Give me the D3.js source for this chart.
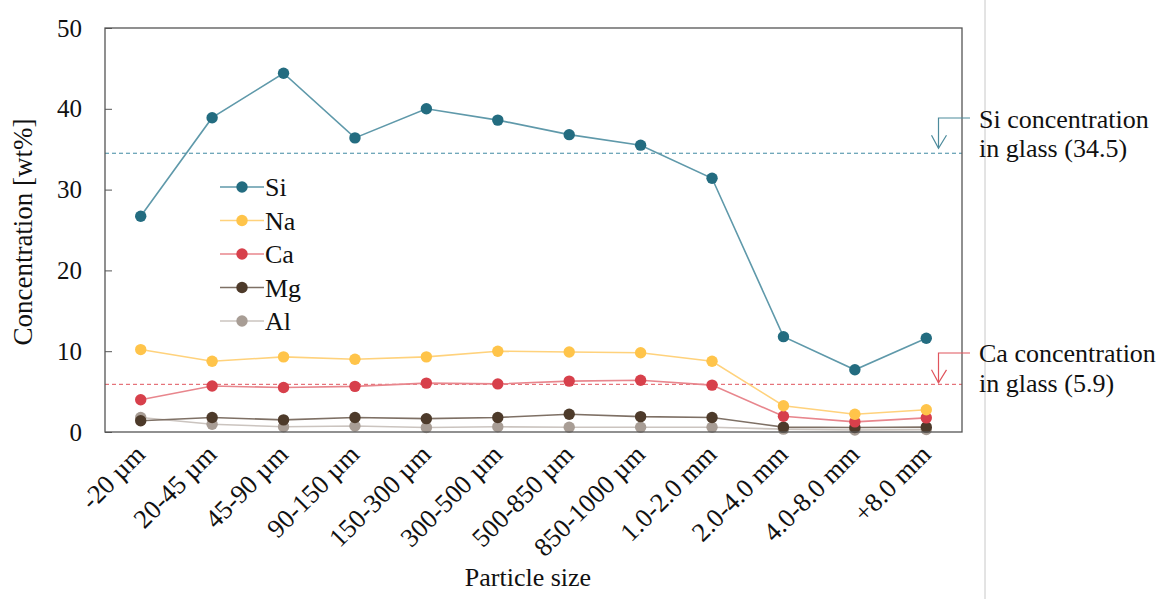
<!DOCTYPE html>
<html><head><meta charset="utf-8">
<script src="https://cdn.jsdelivr.net/npm/d3@7/dist/d3.min.js"></script>
<style>body{margin:0;background:#fff;} svg{display:block;} text{font-family:"Liberation Serif","Times New Roman",serif;}</style>
</head><body>
<svg id="c" width="1169" height="599"></svg>
<script>
const categories = ["-20 µm","20-45 µm","45-90 µm","90-150 µm","150-300 µm","300-500 µm","500-850 µm","850-1000 µm","1.0-2.0 mm","2.0-4.0 mm","4.0-8.0 mm","+8.0 mm"];
const si = [26.7,38.9,44.4,36.4,40.0,38.6,36.8,35.5,31.4,11.8,7.7,11.6];
const na = [10.2,8.75,9.3,9.0,9.3,10.0,9.9,9.8,8.75,3.25,2.2,2.75];
const ca = [4.0,5.7,5.5,5.65,6.05,5.95,6.3,6.4,5.8,1.95,1.25,1.75];
const mg = [1.4,1.8,1.5,1.8,1.65,1.8,2.2,1.9,1.8,0.6,0.55,0.6];
const al = [1.8,0.95,0.65,0.75,0.55,0.65,0.58,0.58,0.58,0.35,0.25,0.3];
const yTicks = [0,10,20,30,40,50];
const siGlass = 34.5, caGlass = 5.9;

const series = [
  {name:"Si", values:si, marker:"#236c80", line:"#5f99aa"},
  {name:"Na", values:na, marker:"#ffc44a", line:"#ffd27c"},
  {name:"Ca", values:ca, marker:"#d7404b", line:"#e8868d"},
  {name:"Mg", values:mg, marker:"#4d3a2a", line:"#7e7065"},
  {name:"Al", values:al, marker:"#a89d95", line:"#cbc4bf"}
];

const svg = d3.select("#c");
const L=105, R=962, T=28, B=432;
const x = d3.scaleBand().domain(categories).range([L,R]);
const y = d3.scaleLinear().domain([0,50]).range([B,T]);
const cx = d => x(d)+x.bandwidth()/2;

// right grey separator
svg.append("line").attr("x1",985).attr("x2",985).attr("y1",0).attr("y2",599).attr("stroke","#c8c8c8").attr("stroke-width",1);

// glass reference lines
svg.append("line").attr("x1",L).attr("x2",R).attr("y1",y(siGlass)).attr("y2",y(siGlass))
  .attr("stroke","#3f89a2").attr("stroke-width",1).attr("stroke-dasharray","4,3");
svg.append("line").attr("x1",L).attr("x2",R).attr("y1",y(caGlass)).attr("y2",y(caGlass))
  .attr("stroke","#e0545c").attr("stroke-width",1).attr("stroke-dasharray","4,3");

// series
const line = d3.line().x((d,i)=>cx(categories[i])).y(d=>y(d));
[...series].reverse().forEach(s=>{
  svg.append("path").attr("d",line(s.values)).attr("fill","none").attr("stroke",s.line).attr("stroke-width",1.6);
});
[...series].reverse().forEach(s=>{
  svg.append("g").selectAll("circle").data(s.values).join("circle")
    .attr("cx",(d,i)=>cx(categories[i])).attr("cy",d=>y(d)).attr("r",5.7).attr("fill",s.marker);
});

// frame
svg.append("rect").attr("x",L).attr("y",T).attr("width",R-L).attr("height",B-T).attr("fill","none").attr("stroke","#555").attr("stroke-width",1.3);

// y axis
const ya = svg.append("g").attr("transform",`translate(${L},0)`)
  .call(d3.axisLeft(y).tickValues(yTicks).tickSize(-7).tickPadding(23).tickFormat(d3.format("d")));
ya.select(".domain").remove();
ya.selectAll("line").attr("stroke","#555");
ya.selectAll("text").attr("font-size",25).attr("fill","#111").attr("font-family","Liberation Serif");

// x labels
svg.append("g").selectAll("text").data(categories).join("text")
  .attr("transform",d=>`translate(${cx(d)+6},${B+24}) rotate(-45)`)
  .attr("text-anchor","end").attr("font-size",26.5).attr("fill","#111").text(d=>d);

// axis titles
svg.append("text").attr("x",528).attr("y",586).attr("text-anchor","middle").attr("font-size",26).attr("fill","#111").text("Particle size");
svg.append("text").attr("transform","translate(32,232) rotate(-90)").attr("text-anchor","middle").attr("font-size",27).attr("fill","#111").text("Concentration [wt%]");

// legend
const lg = svg.append("g");
series.forEach((s,i)=>{
  const yy = 187 + i*33.5;
  lg.append("line").attr("x1",220).attr("x2",264).attr("y1",yy).attr("y2",yy).attr("stroke",s.line).attr("stroke-width",1.6);
  lg.append("circle").attr("cx",242).attr("cy",yy).attr("r",5.7).attr("fill",s.marker);
  lg.append("text").attr("x",265).attr("y",yy+9).attr("font-size",26).attr("fill","#111").text(s.name);
});

// annotations
function annot(yTop, tip, color, l1, l2, ty, gap){
  const ax=938.5;
  svg.append("path").attr("d",`M970,${yTop}H${ax}V${tip}`).attr("fill","none").attr("stroke",color).attr("stroke-width",1.2);
  svg.append("path").attr("d",`M${ax-7},${tip-13}L${ax},${tip}L${ax+8},${tip-13}`).attr("fill","none").attr("stroke",color).attr("stroke-width",1.2);
  svg.append("text").attr("x",979).attr("y",ty).attr("font-size",26).attr("fill","#111").text(l1);
  svg.append("text").attr("x",979).attr("y",ty+gap).attr("font-size",26).attr("fill","#111").text(l2);
}
annot(118, y(siGlass)-5, "#4d8b9c", "Si concentration", "in glass (34.5)", 128, 29);
annot(353, y(caGlass)-1.5, "#e0545c", "Ca concentration", "in glass (5.9)", 362, 30);
</script>
</body></html>
